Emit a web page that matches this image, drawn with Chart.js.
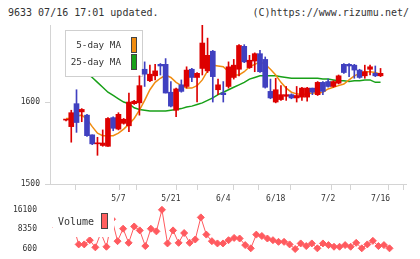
<!DOCTYPE html>
<html>
<head>
<meta charset="utf-8">
<script src="https://cdn.jsdelivr.net/npm/chart.js@4.4.1/dist/chart.umd.min.js"></script>
<style>
  body { margin: 0; background: #fff; width: 420px; height: 259px; overflow: hidden; position: relative;
         font-family: 'DejaVu Sans Mono', monospace; color: #333; }
  .hdr { position: absolute; top: 7px; font-size: 10px; line-height: 12px; white-space: nowrap; }
  #title { left: 8px; }
  #copy { right: 11px; }
  canvas { position: absolute; left: 0; }
  #main { top: 0; }
  #vol { top: 200px; }
</style>
</head>
<body>
<div class="hdr" id="title">9633 07/16 17:01 updated.</div>
<div class="hdr" id="copy">(C)https://www.rizumu.net/</div>
<canvas id="main" width="420" height="205"></canvas>
<canvas id="vol" width="420" height="59"></canvas>
<script>
// trading days shown (2025)
const days = ['4/18','4/21','4/22','4/23','4/24','4/25','4/28','4/30','5/1','5/2',
  '5/7','5/8','5/9','5/12','5/13','5/14','5/15','5/16','5/19','5/20',
  '5/21','5/22','5/23','5/26','5/27','5/28','5/29','5/30','6/2','6/3',
  '6/4','6/5','6/6','6/9','6/10','6/11','6/12','6/13','6/16','6/17',
  '6/18','6/19','6/20','6/23','6/24','6/25','6/26','6/27','6/30','7/1',
  '7/2','7/3','7/4','7/7','7/8','7/9','7/10','7/11','7/14','7/15','7/16'];
const tickDays = ['5/7','5/21','6/4','6/18','7/2','7/16'];

const openP = [1578,1570,1598,1588,1584,1560,1549,1547,1546,1581,
  1567,1574,1571,1598,1599,1640,1626,1632,1646,1646,
  1612,1590,1621,1619,1640,1630,1641,1638,1662,1615,
  1611,1619,1630,1640,1668,1642,1650,1659,1652,1613,
  1600,1603,1607,1609,1605,1606,1606,1617,1609,1624,
  1625,1619,1623,1646,1646,1645,1639,1632,1640,1635,1632];
const closeP = [1578,1587,1575,1591,1559,1549,1550,1550,1580,1568,
  1585,1579,1600,1601,1620,1634,1634,1638,1644,1611,
  1595,1616,1613,1639,1630,1635,1672,1657,1631,1621,
  1609,1643,1645,1669,1649,1651,1659,1637,1618,1605,
  1615,1609,1609,1605,1608,1617,1617,1612,1624,1613,
  1619,1625,1632,1636,1644,1639,1630,1637,1643,1632,1635];
const highP = [1579,1590,1615,1592,1585,1560,1557,1566,1581,1582,
  1587,1580,1611,1602,1632,1649,1645,1646,1647,1653,
  1625,1617,1627,1643,1641,1636,1694,1678,1663,1628,
  1625,1649,1652,1670,1670,1657,1660,1663,1655,1628,
  1629,1620,1619,1610,1619,1618,1618,1617,1625,1625,
  1628,1626,1633,1647,1647,1646,1640,1645,1645,1644,1641];
const lowP = [1577,1551,1563,1576,1558,1548,1535,1546,1546,1565,
  1566,1573,1564,1597,1584,1619,1625,1627,1633,1611,
  1594,1582,1612,1617,1625,1600,1633,1636,1600,1609,
  1600,1617,1628,1632,1648,1641,1637,1636,1617,1604,
  1599,1602,1602,1604,1600,1602,1601,1609,1608,1609,
  1618,1618,1622,1635,1631,1629,1629,1629,1633,1631,1631];
const ma5 = [1580,1580,1583,1584,1579,1570,1562,1559,1559,1559,
  1562,1567,1573,1580,1590,1602,1615,1624,1629,1633,
  1630,1624,1620,1617,1617,1620,1627,1638,1645,1644,
  1643,1637,1633,1633,1637,1643,1646,1649,1646,1640,
  1633,1624,1617,1612,1610,1609,1610,1611,1611,1612,
  1616,1618,1620,1622,1627,1632,1635,1637,1637,1636,1634];
const ma25 = [null,1651,1646,1640,1635,1630,1624,1618,1612,1608,
  1604,1600,1598,1593,1591,1590,1589,1589,1589,1589,
  1590,1591,1592,1594,1595,1597,1599,1602,1605,1609,
  1612,1615,1618,1621,1624,1628,1630,1632,1632,1632,
  1632,1631,1630,1629,1629,1629,1629,1629,1629,1628,
  1628,1627,1626,1626,1625,1626,1626,1627,1627,1624,1624];
const volume = [9000,12000,8000,10000,2420,2420,4090,1260,7000,1490,
  12400,3700,8620,3040,9510,7960,1760,8620,7570,16100,
  2800,7960,3040,6920,3040,4360,13100,6290,3700,2800,
  2800,4090,4980,4750,2150,870,6290,5750,4750,4090,
  3430,3430,2420,600,2800,1760,2800,870,2800,2150,
  1490,1490,2150,1490,3040,870,2420,3820,1760,2150,870];
const priceTicks = [1500, 1600];
const volTicks = [600, 8350, 16100];

const UP = '#dd0000', DOWN = '#4040c0';
const GRID = '#d4d4d4', TXT = '#333';
const X_MIN = -1.17, X_MAX = 62.97;
Chart.defaults.font.family = "'DejaVu Sans Mono', monospace";
Chart.defaults.color = TXT;

const candleColors = days.map((d, i) => closeP[i] >= openP[i] ? UP : DOWN);
const tickSlots = tickDays.map(d => days.indexOf(d));

const maLegend = {
  id: 'maLegend',
  beforeDatasetDraw(chart, args) {
    if (args.index !== 2) return;  // after the MA lines, before candles
    const c = chart.ctx;
    c.save();
    c.fillStyle = '#fff';
    c.strokeStyle = '#cfcfcf';
    c.lineWidth = 1;
    c.fillRect(65, 30, 78, 47);
    c.strokeRect(65.5, 30.5, 77, 46);
    c.font = "9.3px 'DejaVu Sans Mono'";
    c.fillStyle = TXT;
    c.textAlign = 'right';
    c.textBaseline = 'middle';
    c.fillText('5-day MA', 121, 46);
    c.fillText('25-day MA', 121, 63);
    c.strokeStyle = '#444';
    c.fillStyle = '#f08c10';
    c.fillRect(131.5, 37.5, 5, 15);
    c.strokeRect(131.5, 37.5, 5, 15);
    c.fillStyle = '#18a018';
    c.fillRect(131.5, 54.5, 5, 15);
    c.strokeRect(131.5, 54.5, 5, 15);
    c.restore();
  }
};

new Chart(document.getElementById('main'), {
  type: 'bar',
  data: {
    datasets: [
      { type: 'line', data: ma25.map((v, i) => ({ x: i, y: v })), borderColor: '#18a018',
        borderWidth: 1.5, pointRadius: 0, order: 3 },
      { type: 'line', data: ma5.map((v, i) => ({ x: i, y: v })), borderColor: '#f08c10',
        borderWidth: 1.5, pointRadius: 0, order: 2 },
      { data: days.map((d, i) => ({ x: i, y: [lowP[i], highP[i]] })), backgroundColor: candleColors,
        barThickness: 1, grouped: false, order: 1 },
      { data: days.map((d, i) => ({ x: i, y: [openP[i], closeP[i]] })), backgroundColor: candleColors,
        barThickness: 5, minBarLength: 1, grouped: false, order: 0 }
    ]
  },
  options: {
    responsive: false,
    animation: false,
    layout: { padding: { top: 25, right: 14, left: 0, bottom: 0 } },
    plugins: { legend: { display: false }, tooltip: { enabled: false } },
    scales: {
      x: {
        type: 'linear', min: X_MIN, max: X_MAX,
        afterFit: s => { s.height = 21; },
        afterBuildTicks: s => {
          const step = (X_MAX - X_MIN) / 11;
          const t = [];
          for (let k = 0; k <= 11; k++) t.push({ value: X_MIN + k * step });
          tickSlots.forEach(v => t.push({ value: v }));
          s.ticks = t.sort((a, b) => a.value - b.value);
        },
        border: { color: GRID, width: 1 },
        grid: {
          drawOnChartArea: false, tickLength: 6,
          tickColor: ctx => (ctx.tick && tickSlots.includes(ctx.tick.value)) ? 'rgba(0,0,0,0)' : GRID
        },
        ticks: {
          autoSkip: false, maxRotation: 0, minRotation: 0, padding: 4,
          font: { size: 8 }, color: TXT,
          callback: v => { const k = tickSlots.indexOf(v); return k >= 0 ? tickDays[k] : ''; }
        }
      },
      y: {
        min: 1500, max: 1694,
        afterFit: s => { s.width = 50; },
        afterBuildTicks: s => { s.ticks = priceTicks.map(v => ({ value: v })); },
        border: { color: GRID, width: 1 },
        grid: { drawOnChartArea: false, tickLength: 5, color: GRID },
        ticks: { padding: 5, font: { size: 8 }, color: TXT, callback: v => String(v) }
      }
    }
  },
  plugins: [maLegend]
});

const volLegend = {
  id: 'volLegend',
  afterDatasetsDraw(chart) {
    const c = chart.ctx;
    c.save();
    c.fillStyle = '#fff';
    c.fillRect(53, 3, 61, 34);
    c.font = "10px 'DejaVu Sans Mono'";
    c.fillStyle = TXT;
    c.textAlign = 'left';
    c.textBaseline = 'middle';
    c.fillText('Volume', 58, 22);
    c.fillStyle = '#ff5f5f';
    c.strokeStyle = '#444';
    c.fillRect(101.5, 13.5, 6, 15);
    c.strokeRect(101.5, 13.5, 6, 15);
    c.restore();
  }
};

new Chart(document.getElementById('vol'), {
  type: 'line',
  data: {
    datasets: [{
      data: volume.map((v, i) => ({ x: i, y: v })),
      borderColor: '#ff5a5f', backgroundColor: '#ff5a5f', borderWidth: 1,
      pointStyle: 'rectRot', pointRadius: 3.5, pointBorderWidth: 1, clip: false
    }]
  },
  options: {
    responsive: false,
    animation: false,
    layout: { padding: { top: 9, right: 14, left: 0, bottom: 10 } },
    plugins: { legend: { display: false }, tooltip: { enabled: false } },
    scales: {
      x: { type: 'linear', min: X_MIN, max: X_MAX, display: false },
      y: {
        min: 600, max: 16100,
        afterFit: s => { s.width = 50; },
        afterBuildTicks: s => { s.ticks = volTicks.map(v => ({ value: v })); },
        border: { display: false },
        grid: { display: false },
        ticks: { padding: 5, font: { size: 8 }, color: TXT, callback: v => String(v) }
      }
    }
  },
  plugins: [volLegend]
});
</script>
</body>
</html>
